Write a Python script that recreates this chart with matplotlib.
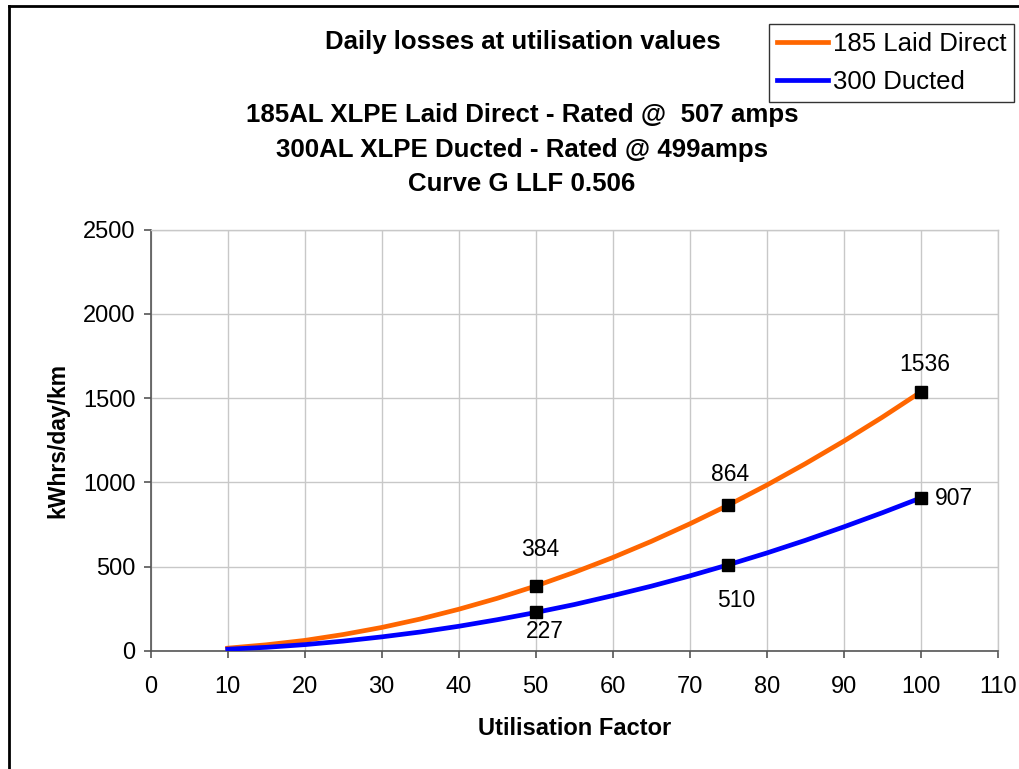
import matplotlib
matplotlib.use("Agg")
import matplotlib.pyplot as plt
from matplotlib.lines import Line2D

plt.rcParams['font.family'] = ['Liberation Sans', 'DejaVu Sans']

utilisation = [10, 15, 20, 25, 30, 35, 40, 45, 50, 55, 60, 65, 70, 75, 80, 85, 90, 95, 100]
laid_direct = [15, 35, 61, 96, 138, 188, 246, 311, 384, 465, 553, 649, 753, 864, 983, 1110, 1244, 1386, 1536]
ducted = [9, 20, 36, 57, 82, 111, 145, 184, 227, 274, 327, 383, 444, 510, 580, 655, 735, 819, 907]

marked_x = [50, 75, 100]
laid_marked = [384, 864, 1536]
ducted_marked = [227, 510, 907]

series_names = ["185 Laid Direct", "300 Ducted"]
main_title = "Daily losses at utilisation values"
title_lines = ["185AL XLPE Laid Direct - Rated @  507 amps",
               "300AL XLPE Ducted - Rated @ 499amps",
               "Curve G LLF 0.506"]
x_ticks = list(range(0, 111, 10))
y_ticks = list(range(0, 2501, 500))

W, H = 1020, 769
fig = plt.figure(figsize=(W / 100, H / 100), dpi=100)

def fx(px):
    return px / W

def fy(py):
    return 1 - py / H

def pt(px):
    return px * 72 / 100

ax = fig.add_axes([fx(150.7), fy(650.7), fx(997.7) - fx(150.7), fy(229.7) - fy(650.7)])

orange = '#FF6600'
blue = '#0000FF'
ax.plot(utilisation, laid_direct, color=orange, lw=3.4, solid_joinstyle='round', zorder=3)
ax.plot(utilisation, ducted, color=blue, lw=3.4, solid_joinstyle='round', zorder=3)
ax.plot(marked_x, laid_marked, 's', color='black', ms=9, zorder=4)
ax.plot(marked_x, ducted_marked, 's', color='black', ms=9, zorder=4)

ax.set_xlim(0, 110)
ax.set_ylim(0, 2500)
ax.set_xticks(x_ticks)
ax.set_yticks(y_ticks)
ax.tick_params(axis='both', labelsize=17, direction='out', length=5, width=1.2,
               color='#555555')
ax.tick_params(axis='x', pad=13)
ax.tick_params(axis='y', pad=6)
ax.grid(True, color='#C8C8C8', lw=1)
ax.set_axisbelow(True)
for s in ['left', 'bottom']:
    ax.spines[s].set_color('#555555')
    ax.spines[s].set_linewidth(1.2)
for s in ['top', 'right']:
    ax.spines[s].set_color('#C8C8C8')
    ax.spines[s].set_linewidth(1)

# data labels
lab_kw = dict(fontsize=16.5, color='black', zorder=5, textcoords='offset points', va='baseline')
ax.annotate(str(laid_marked[0]), (marked_x[0], laid_marked[0]), xytext=(pt(4), pt(30)), ha='center', **lab_kw)
ax.annotate(str(laid_marked[1]), (marked_x[1], laid_marked[1]), xytext=(pt(2), pt(24)), ha='center', **lab_kw)
ax.annotate(str(laid_marked[2]), (marked_x[2], laid_marked[2]), xytext=(pt(4), pt(21.5)), ha='center', **lab_kw)
ax.annotate(str(ducted_marked[0]), (marked_x[0], ducted_marked[0]), xytext=(pt(9), pt(-26)), ha='center', **lab_kw)
ax.annotate(str(ducted_marked[1]), (marked_x[1], ducted_marked[1]), xytext=(pt(8.5), pt(-42)), ha='center', **lab_kw)
ax.annotate(str(ducted_marked[2]), (marked_x[2], ducted_marked[2]), xytext=(pt(14), pt(-7)), ha='left', **lab_kw)

ax.set_xlabel("Utilisation Factor", fontsize=17, fontweight='bold', labelpad=14)
ax.set_ylabel("kWhrs/day/km", fontsize=16.5, fontweight='bold', labelpad=9.5)

# titles
fig.text(fx(523), fy(49.3), main_title, ha='center', va='baseline',
         fontsize=18.5, fontweight='bold')
for t, yy in zip(title_lines, [122, 156.7, 191]):
    fig.text(fx(522), fy(yy), t, ha='center', va='baseline', fontsize=18.6, fontweight='bold')

# legend
handles = [Line2D([], [], color=orange, lw=3.4), Line2D([], [], color=blue, lw=3.4)]
leg = fig.legend(handles, series_names, loc='upper left',
                 bbox_to_anchor=(fx(769), fy(24)),
                 fontsize=18.5, frameon=True, fancybox=False,
                 edgecolor='black', handlelength=2.0, handletextpad=0.2,
                 borderpad=0.3, labelspacing=0.55, borderaxespad=0)
leg.get_frame().set_linewidth(1)

# chart border (left and top)
fig.add_artist(Line2D([fx(9), fx(9)], [fy(6), 0], color='black', lw=2, transform=fig.transFigure))
fig.add_artist(Line2D([fx(9), 1], [fy(6), fy(6)], color='black', lw=2, transform=fig.transFigure))

fig.savefig("out.png", dpi=100)
